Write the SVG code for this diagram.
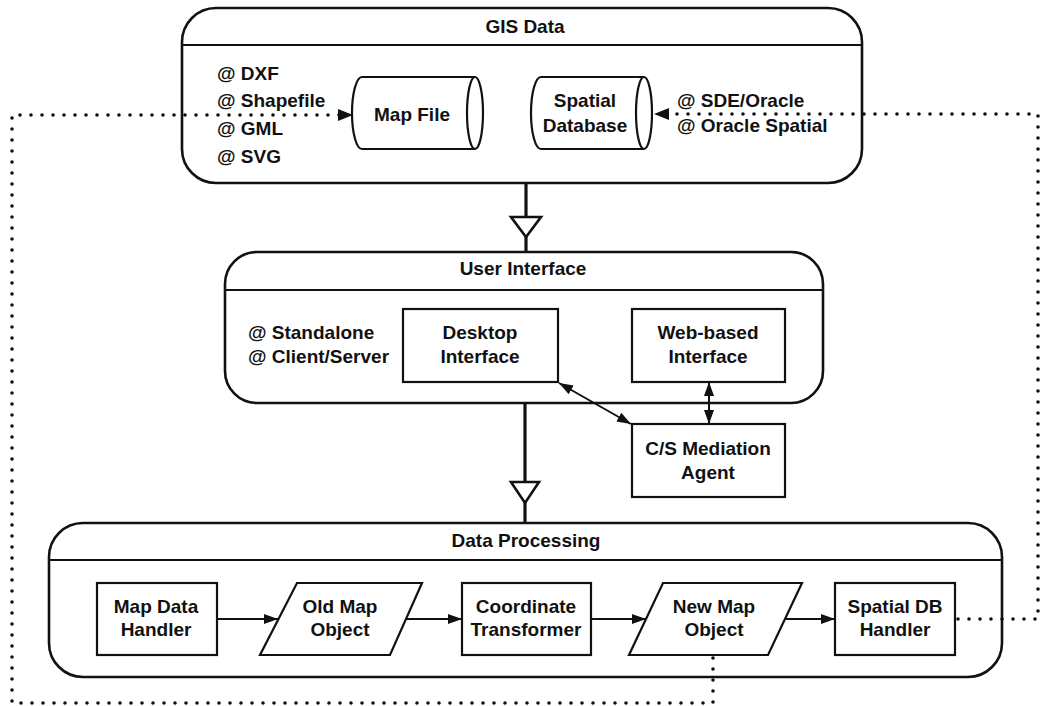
<svg xmlns="http://www.w3.org/2000/svg" width="1040" height="706" viewBox="0 0 1040 706">
  <style>
    text { font-family: "Liberation Sans", Arial, sans-serif; font-weight: bold; font-size: 19px; fill: #111; }
    .c { text-anchor: middle; }
    .frame { fill: #fff; stroke: #111; stroke-width: 2.6; }
    .box { fill: #fff; stroke: #111; stroke-width: 2.2; }
    .rule { stroke: #111; stroke-width: 2.2; fill: none; }
    .flow { stroke: #111; stroke-width: 2; fill: none; }
    .trunk { stroke: #111; stroke-width: 3.2; fill: none; }
    .tri { fill: #fff; stroke: #111; stroke-width: 2.6; stroke-linejoin: miter; }
    .dots { stroke: #111; stroke-width: 3.6; fill: none; stroke-dasharray: 0 11; stroke-linecap: round; }
  </style>
  <defs>
    <marker id="arrow" markerUnits="userSpaceOnUse" markerWidth="15" markerHeight="12" refX="14" refY="5" orient="auto-start-reverse" viewBox="0 0 15 10">
      <path d="M0,0 L14,5 L0,10 z" fill="#111"/>
    </marker>
  </defs>

  <!-- GIS Data container -->
  <g id="gis-data">
    <rect class="frame" x="182" y="8" width="680" height="175" rx="34" ry="34"/>
    <line class="rule" x1="182" y1="45" x2="862" y2="45"/>
    <text class="c" x="525" y="33">GIS Data</text>
    <text x="217" y="80">@ DXF</text>
    <text x="217" y="107">@ Shapefile</text>
    <text x="217" y="135">@ GML</text>
    <text x="217" y="163">@ SVG</text>
    <text x="677" y="107">@ SDE/Oracle</text>
    <text x="677" y="132">@ Oracle Spatial</text>
  </g>

  <g id="map-file">
    <path class="box" d="M362,77 L475,77 A8,36 0 0 1 475,149 L362,149 A10,36 0 0 1 362,77 z"/>
    <path class="box" d="M475,77 A8,36 0 0 0 475,149"/>
    <text class="c" x="412" y="121">Map File</text>
  </g>

  <g id="spatial-database">
    <path class="box" d="M541,77 L644,77 A8,36 0 0 1 644,149 L541,149 A10,36 0 0 1 541,77 z"/>
    <path class="box" d="M644,77 A8,36 0 0 0 644,149"/>
    <text class="c" x="585" y="107">Spatial</text>
    <text class="c" x="585" y="132">Database</text>
  </g>

  <!-- User Interface container -->
  <g id="user-interface">
    <rect class="frame" x="225" y="252" width="598" height="151" rx="32" ry="32"/>
    <line class="rule" x1="225" y1="290" x2="823" y2="290"/>
    <text class="c" x="523" y="275">User Interface</text>
    <text x="248" y="339">@ Standalone</text>
    <text x="248" y="363">@ Client/Server</text>
  </g>

  <g id="desktop-interface">
    <rect class="box" x="403" y="309" width="155" height="73"/>
    <text class="c" x="480" y="339">Desktop</text>
    <text class="c" x="480" y="363">Interface</text>
  </g>

  <g id="web-interface">
    <rect class="box" x="632" y="309" width="153" height="73"/>
    <text class="c" x="708" y="339">Web-based</text>
    <text class="c" x="708" y="363">Interface</text>
  </g>

  <g id="cs-mediation-agent">
    <rect class="box" x="632" y="424" width="153" height="73"/>
    <text class="c" x="708" y="455">C/S Mediation</text>
    <text class="c" x="708" y="479">Agent</text>
  </g>

  <!-- Data Processing container -->
  <g id="data-processing">
    <rect class="frame" x="49" y="523" width="953" height="154" rx="34" ry="34"/>
    <line class="rule" x1="49" y1="560" x2="1002" y2="560"/>
    <text class="c" x="526" y="547">Data Processing</text>
  </g>

  <g id="map-data-handler">
    <rect class="box" x="97" y="583" width="120" height="72"/>
    <text class="c" x="156" y="613">Map Data</text>
    <text class="c" x="156" y="636">Handler</text>
  </g>

  <g id="old-map-object">
    <polygon class="box" points="297,583 422,583 390,655 260,655"/>
    <text class="c" x="340" y="613">Old Map</text>
    <text class="c" x="340" y="636">Object</text>
  </g>

  <g id="coordinate-transformer">
    <rect class="box" x="462" y="583" width="129" height="72"/>
    <text class="c" x="526" y="613">Coordinate</text>
    <text class="c" x="526" y="636">Transformer</text>
  </g>

  <g id="new-map-object">
    <polygon class="box" points="663,583 802,583 768,655 629,655"/>
    <text class="c" x="714" y="613">New Map</text>
    <text class="c" x="714" y="636">Object</text>
  </g>

  <g id="spatial-db-handler">
    <rect class="box" x="835" y="583" width="120" height="72"/>
    <text class="c" x="895" y="613">Spatial DB</text>
    <text class="c" x="895" y="636">Handler</text>
  </g>

  <!-- Connectors -->
  <g id="connectors">
    <!-- layer dependencies -->
    <line class="trunk" x1="526" y1="183" x2="526" y2="252"/>
    <polygon class="tri" points="511,217 541,217 526,237"/>
    <line class="trunk" x1="525" y1="403" x2="525" y2="523"/>
    <polygon class="tri" points="511,482 539,482 525,503"/>

    <!-- mediation links -->
    <line class="flow" x1="559" y1="383" x2="631" y2="424" marker-start="url(#arrow)" marker-end="url(#arrow)"/>
    <line class="flow" x1="709" y1="382" x2="709" y2="424" marker-start="url(#arrow)" marker-end="url(#arrow)"/>

    <!-- processing pipeline -->
    <line class="flow" x1="217" y1="619" x2="278" y2="619" marker-end="url(#arrow)"/>
    <line class="flow" x1="406" y1="619" x2="462" y2="619" marker-end="url(#arrow)"/>
    <line class="flow" x1="591" y1="619" x2="646" y2="619" marker-end="url(#arrow)"/>
    <line class="flow" x1="785" y1="619" x2="835" y2="619" marker-end="url(#arrow)"/>

    <!-- storage loops -->
    <path class="dots" d="M713,658 L713,703 L12,703 L12,115 L340,115"/>
    <path d="M338,109 L353,115 L338,121 z" fill="#111"/>
    <path class="dots" d="M958,619 L1038,619 L1038,114 L668,114"/>
    <path d="M669,108 L654,114 L669,120 z" fill="#111"/>
  </g>
</svg>
